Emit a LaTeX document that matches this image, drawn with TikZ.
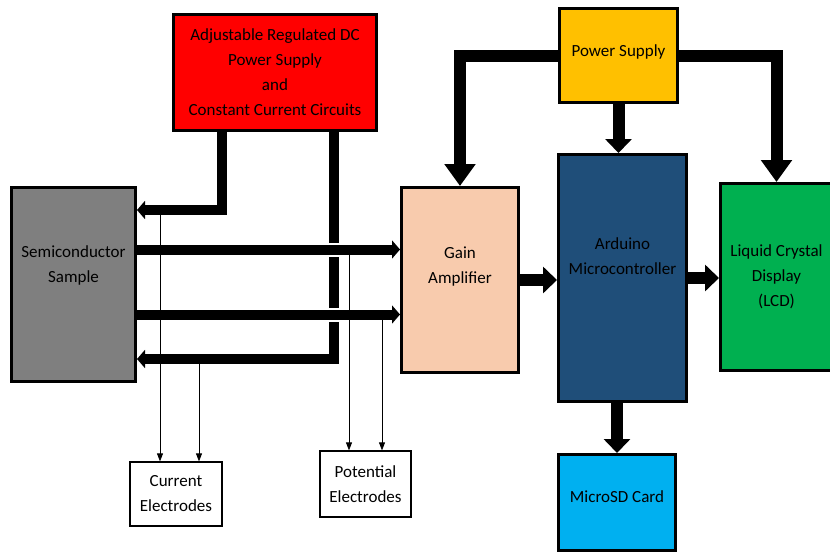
\documentclass[tikz,border=0pt]{standalone}
\usepackage{fontspec}
\setmainfont{Carlito}
\usetikzlibrary{arrows.meta}
\definecolor{cRed}{RGB}{255,0,0}
\definecolor{cGold}{RGB}{255,192,0}
\definecolor{cGrey}{RGB}{127,127,127}
\definecolor{cPeach}{RGB}{248,203,173}
\definecolor{cNavy}{RGB}{31,78,121}
\definecolor{cGreen}{RGB}{0,176,80}
\definecolor{cCyan}{RGB}{0,176,240}

\begin{document}
\begin{tikzpicture}[x=1pt, y=-1pt,
      blk/.style={draw, line width=3pt, align=center, inner sep=2pt,
                  font=\fontsize{17}{25}\selectfont},
      small/.style={draw, line width=1.2pt, fill=white, align=center,
                    font=\fontsize{17}{25}\selectfont},
      lift/.style={text depth=#1},
      bus/.style={line width=10pt, -{Triangle[width=18pt,length=8pt]}},
      feed/.style={line width=12pt, -{Triangle[width=30pt,length=22pt]}},
      link/.style={line width=12pt, -{Triangle[width=26pt,length=14pt]}},
      tap/.style={line width=0.8pt, -{Triangle[width=6pt,length=8pt]}}]
    \useasboundingbox (0,0) rectangle (830,554);
    \node[blk, fill=cRed, minimum width=203pt, minimum height=116pt] (dcps) at (275,72.5)
      {Adjustable Regulated DC\\Power Supply\\and\\Constant Current Circuits};
    \node[blk, fill=cGold, lift=10pt, minimum width=118pt, minimum height=94pt] (psu) at (618.5,55.5) {Power Supply};
    \node[blk, fill=cGrey, lift=40pt, minimum width=124pt, minimum height=194pt] (smp) at (73.5,284.5)
      {Semiconductor\\Sample};
    \node[blk, fill=cPeach, lift=30pt, minimum width=117pt, minimum height=185pt] (amp) at (460,280)
      {Gain\\Amplifier};
    \node[blk, fill=cNavy, lift=44pt, minimum width=128pt, minimum height=247pt] (mcu) at (622.5,278)
      {Arduino\\Microcontroller};
    \node[blk, fill=cGreen, minimum width=112pt, minimum height=187pt] (lcd) at (776.5,277)
      {Liquid Crystal\\Display\\(LCD)};
    \node[blk, fill=cCyan, lift=12pt, minimum width=117pt, minimum height=96pt] (sd) at (617,502.5) {MicroSD Card};
    \node[small, minimum width=92pt, minimum height=64pt] (cur) at (176,494) {Current\\Electrodes};
    \node[small, minimum width=91pt, minimum height=66pt] (pot) at (365.5,484) {Potential\\Electrodes};
    % power rails
    \draw[feed] (psu.west) -| (amp.north);
    \draw[feed] (psu.east) -| (lcd.north);
    \draw[link] (psu.south) -- (psu.south |- mcu.north);
    \draw[link] (amp.east) -- (amp.east -| mcu.west);
    \draw[link] (mcu.east) -- (mcu.east -| lcd.west);
    \draw[link] (sd.north |- mcu.south) -- (sd.north);
    % electrode taps
    \coordinate (c1) at (160,211);
    \coordinate (c2) at (199,357);
    \coordinate (p1) at (349,249);
    \coordinate (p2) at (382,315);
    \foreach \t/\b in {c1/cur, c2/cur, p1/pot, p2/pot}
      \draw[tap] (\t) -- (\t |- \b.north);
    % sample leads
    \coordinate (rr) at ([xshift=59pt]dcps.south);
    \draw[bus] (rr) |- ([yshift=24pt]smp.south east);
    \coordinate (o1) at ([yshift=35pt]smp.east);
    \coordinate (o2) at ([yshift=-30pt]smp.east);
    \foreach \o in {o1, o2} {
      \draw[white, line width=14pt] (\o -| rr) +(-10,0) -- +(10,0);
      \draw[bus] (\o) -- (\o -| amp.west);
    }
    \draw[bus] ([xshift=-53pt]dcps.south) |- ([yshift=-24pt]smp.north east);
  \end{tikzpicture}
\end{document}
